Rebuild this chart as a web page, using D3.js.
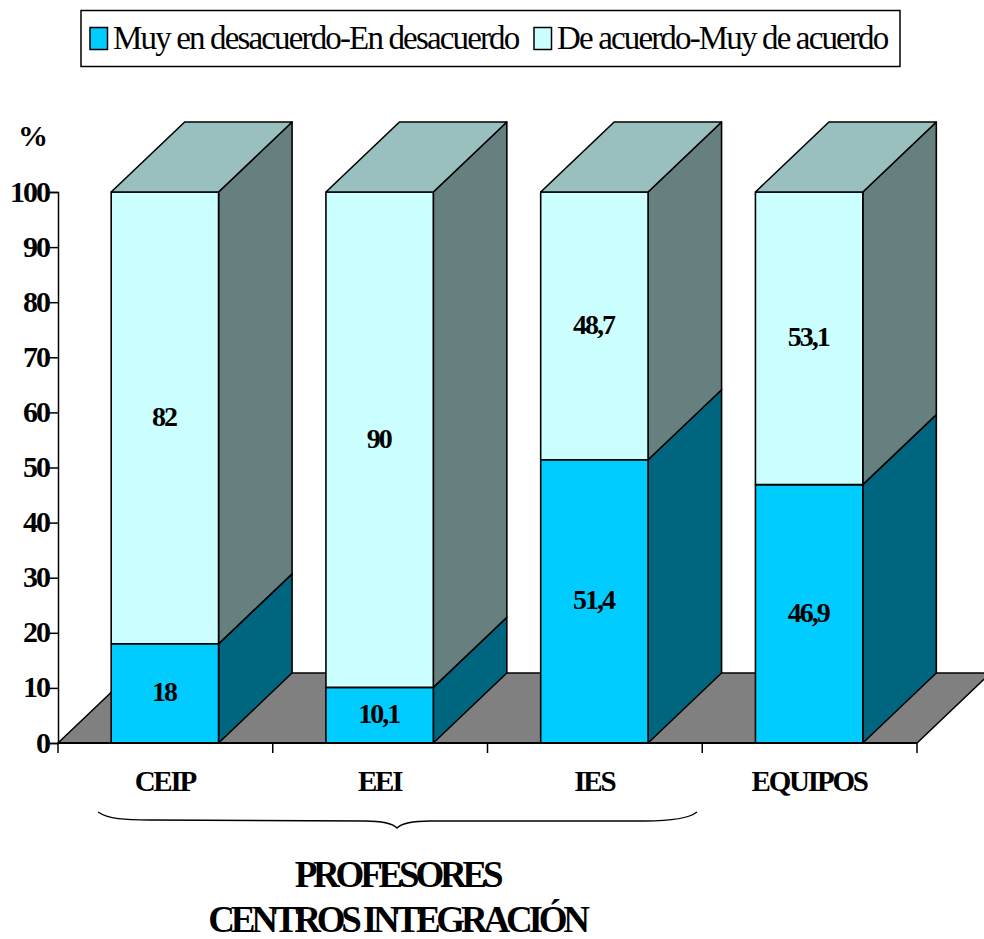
<!DOCTYPE html>
<html lang="es">
<head>
<meta charset="UTF-8">
<title>Profesores - Centros integración</title>
<script src="https://d3js.org/d3.v7.min.js"></script>
<style>
  body { margin: 0; background: #fff; }
  svg { display: block; }
  text { font-family: "Liberation Serif", serif; fill: #000; }
  .tick-y { font-weight: bold; font-size: 30px; letter-spacing: -2px; }
  .val { font-weight: bold; font-size: 28px; letter-spacing: -2px; }
  .cat { font-weight: bold; font-size: 29px; letter-spacing: -2.2px; }
  .big { font-weight: bold; font-size: 37px; letter-spacing: -4.2px; }
  .leg { font-size: 33px; letter-spacing: -1.85px; }
</style>
</head>
<body>
<svg width="984" height="939"></svg>
<script>
const categories = ["CEIP", "EEI", "IES", "EQUIPOS"];
const desacuerdo = [18, 10.1, 51.4, 46.9];
const acuerdo = [82, 90, 48.7, 53.1];
const labels = ["18|82", "10,1|90", "51,4|48,7", "46,9|53,1"];
const yTicks = [0, 10, 20, 30, 40, 50, 60, 70, 80, 90, 100];
const legendNames = ["Muy en desacuerdo-En desacuerdo", "De acuerdo-Muy de acuerdo"];

const svg = d3.select("svg");
const x = d3.scaleBand().domain(categories).range([57.5, 916.5]).paddingInner(0.5).paddingOuter(0.25);
const y = d3.scaleLinear().domain([0, 100]).range([743, 192]).clamp(true);
const dx = 73.5, dy = -70;

const pts = a => a.map(p => p.join(",")).join(" ");

// floor
svg.append("polygon")
  .attr("points", pts([[58, 743], [58 + dx, 743 + dy], [917 + dx, 743 + dy], [917, 743]]))
  .attr("fill", "#808080").attr("stroke", "#000").attr("stroke-width", 1.5);

// stacked 3d bars, left to right
const series = [
  { vals: desacuerdo, front: "#00ccff", side: "#006680", top: "#00ccff" },
  { vals: acuerdo, front: "#ccffff", side: "#668080", top: "#99c0be" }
];

categories.forEach((c, i) => {
  const x0 = x(c), x1 = x0 + x.bandwidth();
  let base = 0;
  series.forEach((s, k) => {
    const yb = y(base), yt = y(base + s.vals[i]);
    const g = svg.append("g").attr("stroke", "#000").attr("stroke-width", 1.6).attr("stroke-linejoin", "round");
    g.append("polygon").attr("points", pts([[x1, yb], [x1 + dx, yb + dy], [x1 + dx, yt + dy], [x1, yt]])).attr("fill", s.side);
    g.append("rect").attr("x", x0).attr("y", yt).attr("width", x1 - x0).attr("height", yb - yt).attr("fill", s.front);
    if (k === 1) {
      g.append("polygon").attr("points", pts([[x0, yt], [x0 + dx, yt + dy], [x1 + dx, yt + dy], [x1, yt]])).attr("fill", s.top);
    }
    svg.append("text").attr("class", "val")
      .attr("x", (x0 + x1) / 2 - 1).attr("y", (yb + yt) / 2 + 8)
      .attr("text-anchor", "middle").text(labels[i].split("|")[k]);
    base += s.vals[i];
  });
});

// y axis
const yAxis = svg.append("g").attr("transform", "translate(58,0)")
  .call(d3.axisLeft(y).tickValues(yTicks).tickSize(9).tickFormat(d3.format("d")));
yAxis.attr("font-size", null).attr("font-family", null);
yAxis.select(".domain").attr("stroke-width", 1.5);
yAxis.selectAll("line").attr("stroke-width", 1.5);
yAxis.selectAll("text").attr("class", "tick-y").attr("x", -9).attr("dy", "0.3em");

svg.append("text").attr("class", "tick-y").attr("x", 32).attr("y", 146).attr("text-anchor", "middle").text("%");

// x axis
const edge = d3.scaleLinear().domain([0, 4]).range([58, 917]);
const xTickG = svg.append("g");
d3.range(5).forEach(i => {
  xTickG.append("line").attr("x1", edge(i)).attr("x2", edge(i)).attr("y1", 743).attr("y2", 753)
    .attr("stroke", "#000").attr("stroke-width", 1.5);
});
xTickG.append("line").attr("x1", 58).attr("x2", 917).attr("y1", 743).attr("y2", 743)
  .attr("stroke", "#000").attr("stroke-width", 2.2);

categories.forEach(c => {
  svg.append("text").attr("class", "cat")
    .attr("x", x(c) + x.bandwidth() / 2).attr("y", 791)
    .attr("text-anchor", "middle").text(c);
});

// brace under the three teacher groups
svg.append("path")
  .attr("d", "M98,812 C108,819 125,820 150,820 L365,821 C382,821 392,823 397,828 C402,823 412,821 430,821 L645,821 C670,821 688,819 697,812")
  .attr("fill", "none").attr("stroke", "#000").attr("stroke-width", 1.3);

svg.append("text").attr("class", "big").attr("x", 397).attr("y", 887).attr("text-anchor", "middle").text("PROFESORES");
svg.append("text").attr("class", "big").attr("x", 397).attr("y", 932).attr("text-anchor", "middle").text("CENTROS INTEGRACIÓN");

// legend
svg.append("rect").attr("x", 81).attr("y", 10.5).attr("width", 819).attr("height", 56)
  .attr("fill", "#fff").attr("stroke", "#000").attr("stroke-width", 1.5);
const legendX = [90, 534];
legendNames.forEach((n, i) => {
  svg.append("rect").attr("x", legendX[i]).attr("y", 27.5).attr("width", 17.5).attr("height", 22)
    .attr("fill", series[i].front).attr("stroke", "#000").attr("stroke-width", 1.5);
  svg.append("text").attr("class", "leg").attr("x", legendX[i] + 23).attr("y", 49).text(n);
});
</script>
</body>
</html>
